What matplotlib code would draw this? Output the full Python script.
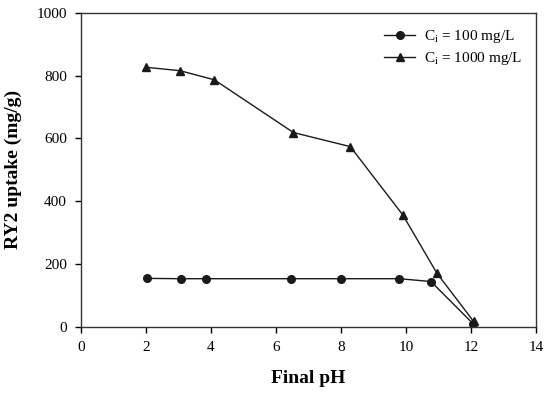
import matplotlib
matplotlib.use("Agg")
import matplotlib.pyplot as plt

plt.rcParams['font.family'] = 'Liberation Serif'
plt.rcParams['mathtext.fontset'] = 'custom'
plt.rcParams['mathtext.rm'] = 'Liberation Serif'
plt.rcParams['mathtext.it'] = 'Liberation Serif:italic'

# C_i = 100 mg/L
ph_100 = [2.05, 3.08, 3.85, 6.47, 8.01, 9.80, 10.77, 12.06]
up_100 = [154, 153, 153, 153, 153, 153, 144, 10]

# C_i = 1000 mg/L
ph_1000 = [2.01, 3.06, 4.11, 6.54, 8.29, 9.90, 10.95, 12.08]
up_1000 = [827, 816, 787, 619, 574, 357, 171, 17]

fig = plt.figure(figsize=(5.5, 3.93), dpi=100)
ax = fig.add_axes([80.7/550, 1 - 326.7/393, (536 - 80.7)/550, (326.7 - 13)/393])

ax.plot(ph_100, up_100, color='#1a1a1a', lw=1, marker='o', ms=5.5,
        label=r'C$_\mathrm{i}$ = 100 mg/L')
ax.plot(ph_1000, up_1000, color='#1a1a1a', lw=1, marker='^', ms=5.5,
        label=r'C$_\mathrm{i}$ = 1000 mg/L')

ax.set_xlim(0, 14)
ax.set_ylim(0, 1000)
ax.set_xticks(range(0, 15, 2))
ax.set_yticks(range(0, 1001, 200))
ax.tick_params(direction='out', length=4, width=1, labelsize=11, pad=6)
for s in ax.spines.values():
    s.set_linewidth(1)
    s.set_color('#333333')

ax.set_xlabel('Final pH', fontsize=14, fontweight='bold', labelpad=12)
ax.set_ylabel('RY2 uptake (mg/g)', fontsize=14, fontweight='bold', labelpad=10)

ax.legend(loc='upper right', frameon=False, fontsize=11, handlelength=2.0,
          handletextpad=0.6, bbox_to_anchor=(1.0, 0.995), labelspacing=0.3)

fig.savefig('out.png', dpi=100)
